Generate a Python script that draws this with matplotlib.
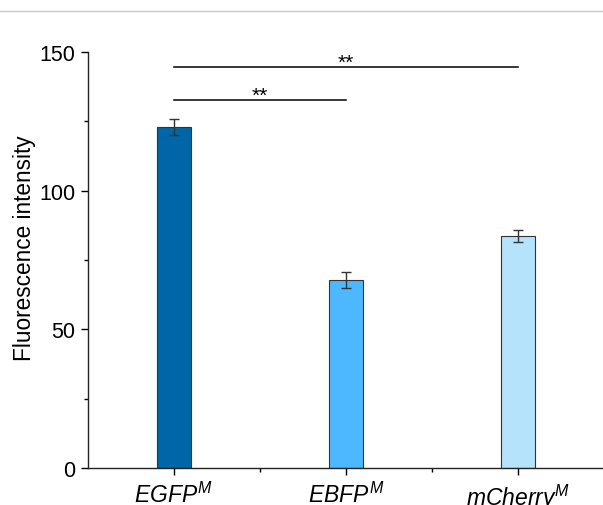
import numpy as np
import matplotlib.pyplot as plt
from matplotlib.ticker import MultipleLocator, FixedLocator
from matplotlib.lines import Line2D

plt.rcParams['font.family'] = ['Liberation Sans', 'DejaVu Sans']
plt.rcParams['mathtext.fontset'] = 'custom'
plt.rcParams['mathtext.it'] = 'Liberation Sans:italic'
plt.rcParams['mathtext.rm'] = 'Liberation Sans'

labels = [r'$EGFP^{M}$', r'$EBFP^{M}$', r'$mCherry^{M}$']
values = [123.0, 67.8, 83.7]
errors = [2.9, 3.0, 2.0]
colors = ['#0066a8', '#4db8ff', '#b5e3fb']

# significance brackets: (from bar, to bar, height, text)
sig = [(0, 2, 144.6, '**'), (0, 1, 132.7, '**')]

fig = plt.figure(figsize=(6.03, 5.06), dpi=100)
ax = fig.add_axes([0.146, 0.073, 0.856, 0.822])

x = np.arange(len(labels))
ax.bar(x, values, width=0.195, color=colors, edgecolor='#333333', linewidth=0.8, zorder=2)
ax.errorbar(x, values, yerr=errors, fmt='none', ecolor='#333333', elinewidth=1, capsize=3.5, capthick=1, zorder=3)

for a, b, h, t in sig:
    ax.plot([x[a], x[b]], [h, h], color='black', lw=1.1)
    ax.text((x[a] + x[b]) / 2, h - 1.6, t, ha='center', va='bottom', fontsize=15)

ax.set_xlim(-0.5, 2.5)
ax.set_ylim(0, 150)
ax.set_xticks(x)
ax.set_xticklabels(labels)
ax.xaxis.set_minor_locator(FixedLocator([0.5, 1.5]))
ax.yaxis.set_major_locator(MultipleLocator(50))
ax.yaxis.set_minor_locator(MultipleLocator(25))
ax.tick_params(axis='both', which='major', direction='out', length=5, width=1, labelsize=15.5, pad=4)
ax.tick_params(axis='both', which='minor', direction='out', length=3, width=1)
ax.tick_params(axis='x', pad=5, labelsize=16.5)
ax.set_ylabel('Fluorescence intensity', fontsize=16.3)
ax.yaxis.set_label_coords(-0.1, 0.53)

for s in ['top', 'right']:
    ax.spines[s].set_visible(False)
for s in ['left', 'bottom']:
    ax.spines[s].set_linewidth(1)
    ax.spines[s].set_color('#222222')

fig.add_artist(Line2D([0, 1], [1 - 12 / 506, 1 - 12 / 506], transform=fig.transFigure, color='#c8c8c8', lw=1))

fig.savefig('out.png', dpi=100)
